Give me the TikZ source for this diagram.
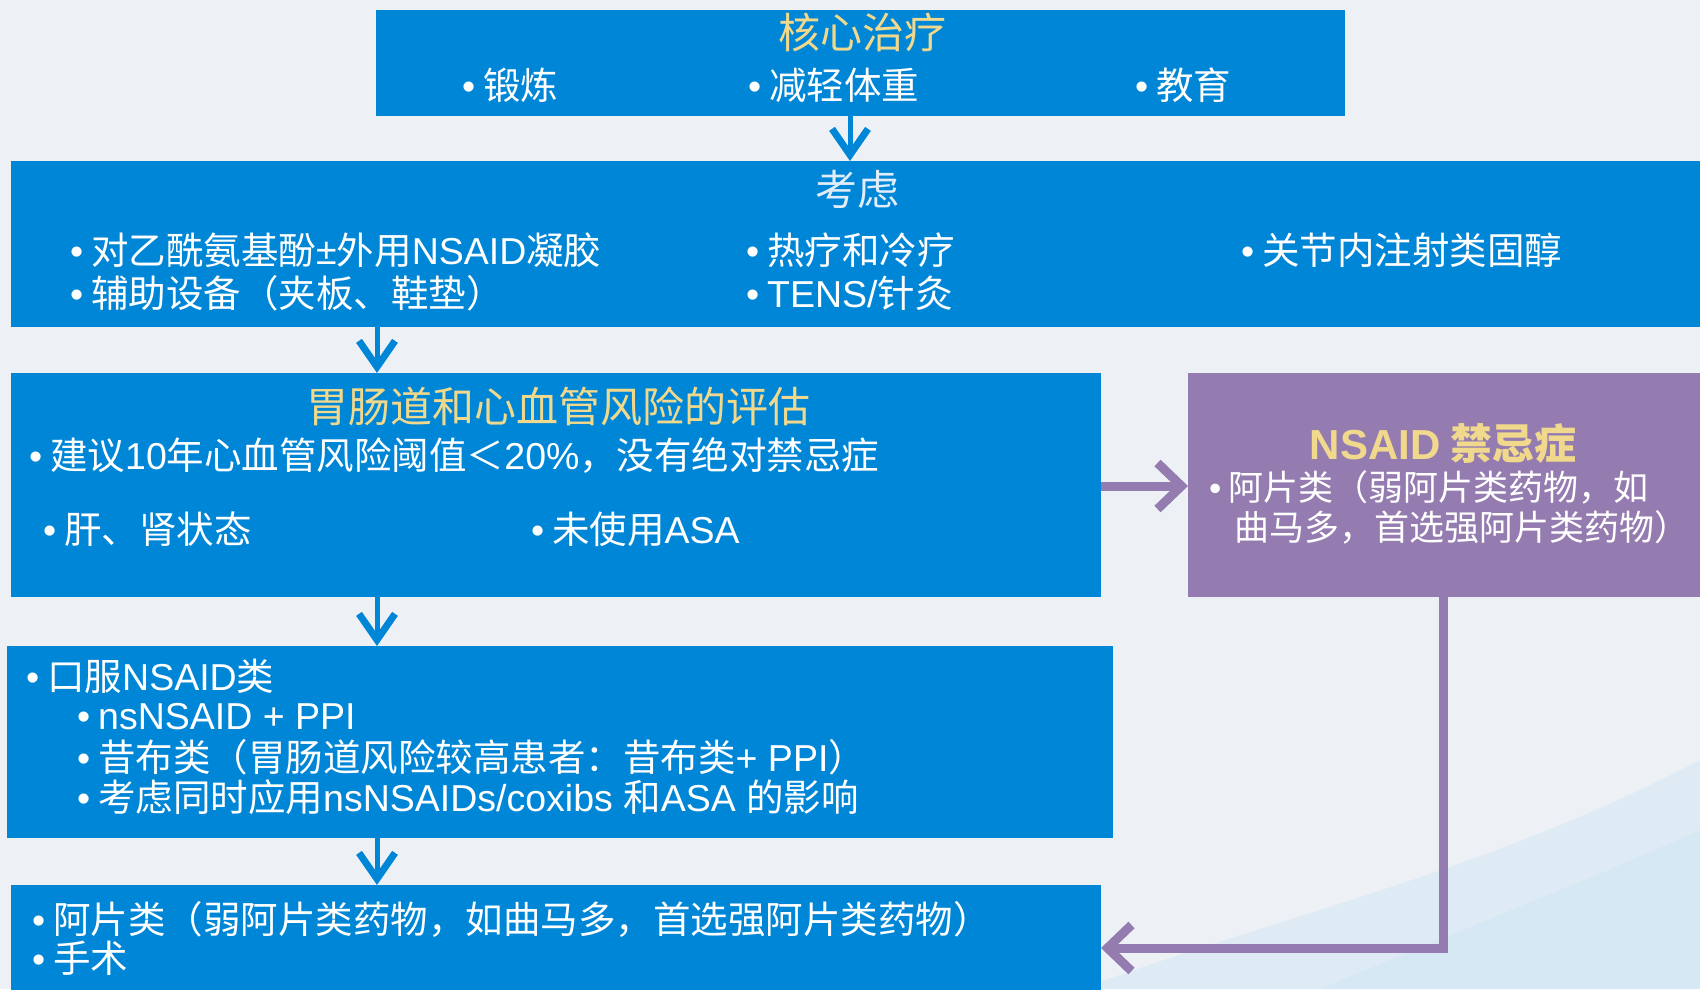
\documentclass[tikz,border=0pt]{standalone}
\usepackage{fontspec}
\setmainfont{Noto Sans CJK SC}
\newfontfamily\lat{Liberation Sans}
\usetikzlibrary{arrows.meta}
\definecolor{bgc}{RGB}{237,241,245}
\definecolor{boxblue}{RGB}{0,134,214}
\definecolor{boxpurple}{RGB}{149,124,176}
\definecolor{ttl}{RGB}{240,216,140}
\definecolor{paleblue}{RGB}{225,238,250}
\definecolor{wash}{RGB}{200,227,243}
\newcommand{\bl}{\makebox[0.56em][l]{\lat •}}
\begin{document}
\begin{tikzpicture}[x=1pt,y=-1pt,
  bbox/.style={fill=boxblue, draw=none, inner sep=0pt, outer sep=0pt, anchor=north west},
  pbox/.style={fill=boxpurple, draw=none, inner sep=0pt, outer sep=0pt, anchor=north west},
  txt/.style={anchor=west, inner sep=0pt, text=white, font=\fontsize{37.5}{42}\selectfont},
  ptxt/.style={txt, font=\fontsize{35}{40}\selectfont},
  ttlt/.style={inner sep=0pt, text=ttl, font=\fontsize{42}{46}\selectfont},
  barrow/.style={draw=boxblue, line width=5pt, -{Straight Barb[length=26pt,width=36pt,line width=7pt]}},
  parrow/.style={draw=boxpurple, line width=9pt, line join=miter, -{Straight Barb[length=24pt,width=46pt,line width=9pt]}},
]
\path[use as bounding box] (0,0) rectangle (1700,989);
\clip (0,0) rectangle (1700,989);
\fill[bgc] (0,0) rectangle (1700,989);
% soft watercolour wash, bottom right
\fill[wash, opacity=0.4] (1080,989) .. controls (1300,910) and (1490,870) .. (1700,760) -- (1700,989) -- cycle;
\fill[wash, opacity=0.35] (1320,989) .. controls (1460,930) and (1590,880) .. (1700,830) -- (1700,989) -- cycle;

% boxes
\node[bbox, minimum width=969pt, minimum height=106pt] (b1) at (376,10) {};
\node[bbox, minimum width=1700pt, minimum height=166pt] (b2) at (11,161) {};
\node[bbox, minimum width=1090pt, minimum height=224pt] (b3) at (11,373) {};
\node[pbox, minimum width=522pt, minimum height=224pt] (bp) at (1188,373) {};
\node[bbox, minimum width=1106pt, minimum height=192pt] (b4) at (7,646) {};
\node[bbox, minimum width=1090pt, minimum height=115pt] (b5) at (11,885) {};

% box 1
\node[ttlt] (t1) at (862,32) {核心治疗};
\node[txt] (t1a) at (462,85) {\bl 锻炼};
\node[txt] (t1b) at (748,85) {\bl 减轻体重};
\node[txt] (t1c) at (1135,85) {\bl 教育};

% box 2
\node[ttlt, text=paleblue] (t2) at (857,189) {考虑};
\node[txt] (t2a) at (70,250) {\bl 对乙酰氨基酚{\lat ±}外用{\lat NSAID}凝胶};
\node[txt] (t2b) at (70,293) {\bl 辅助设备（夹板、鞋垫）};
\node[txt] (t2c) at (746,250) {\bl 热疗和冷疗};
\node[txt] (t2d) at (746,293) {\bl {\lat TENS/}针灸};
\node[txt] (t2e) at (1241,250) {\bl 关节内注射类固醇};

% box 3
\node[ttlt] (t3) at (558,406) {胃肠道和心血管风险的评估};
\node[txt] (t3a) at (29,456) {\bl 建议{\lat 10}年心血管风险阈值＜{\lat 20\%}，没有绝对禁忌症};
\node[txt] (t3b) at (43,529) {\bl 肝、肾状态};
\node[txt] (t3c) at (531,529) {\bl 未使用{\lat ASA}};

% purple box
\node[ttlt] (tp) at (1443,444) {{\lat\bfseries NSAID} {\bfseries 禁忌症}};
\node[ptxt] (tpa) at (1209,487) {\bl 阿片类（弱阿片类药物，如};
\node[ptxt] (tpb) at (1234,527) {曲马多，首选强阿片类药物）};

% box 4
\node[txt] (t4a) at (26,676) {\bl 口服{\lat NSAID}类};
\node[txt] (t4b) at (77,717) {\bl {\lat nsNSAID + PPI}};
\node[txt] (t4c) at (77,757) {\bl 昔布类（胃肠道风险较高患者：昔布类{\lat + PPI}）};
\node[txt] (t4d) at (77,797) {\bl 考虑同时应用{\lat nsNSAIDs/coxibs }和{\lat ASA }的影响};

% box 5
\node[txt] (t5a) at (32,919) {\bl 阿片类（弱阿片类药物，如曲马多，首选强阿片类药物）};
\node[txt] (t5b) at (32,958) {\bl 手术};

% connectors
\coordinate (x1) at (850,0);
\coordinate (x2) at (377,0);
\coordinate (yp) at (0,486);
\coordinate (xp) at (1443,0);
\coordinate (yb) at (0,948);
\draw[barrow] (b1.south -| x1) -- (b2.north -| x1);
\draw[barrow] (b2.south -| x2) -- (b3.north -| x2);
\draw[barrow] (b3.south -| x2) -- (b4.north -| x2);
\draw[barrow] (b4.south -| x2) -- (b5.north -| x2);
\draw[parrow] (b3.east |- yp) -- (bp.west |- yp);
\draw[parrow] (bp.south -| xp) |- (b5.east |- yb);
\end{tikzpicture}
\end{document}
